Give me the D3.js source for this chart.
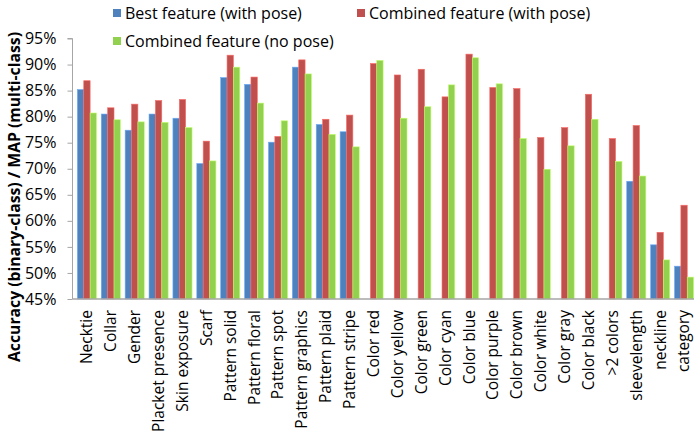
<!DOCTYPE html>
<html>
<head>
<meta charset="utf-8">
<script src="https://cdn.jsdelivr.net/npm/d3@7/dist/d3.min.js"></script>
<style>
  body { margin: 0; background: #fff; }
  svg { font-family: "Open Sans", "Noto Sans", sans-serif; }
</style>
</head>
<body>
<div id="chart"></div>
<script>
const categories = ["Necktie", "Collar", "Gender", "Placket presence", "Skin exposure", "Scarf",
  "Pattern solid", "Pattern floral", "Pattern spot", "Pattern graphics", "Pattern plaid",
  "Pattern stripe", "Color red", "Color yellow", "Color green", "Color cyan", "Color blue",
  "Color purple", "Color brown", "Color white", "Color gray", "Color black", ">2 colors",
  "sleevelength", "neckline", "category"]

// null = no bar for that category
const bestPose = [85.2, 80.5, 77.4, 80.5, 79.7, 71.0, 87.5, 86.2, 75.1, 89.5, 78.5, 77.1,
  null, null, null, null, null, null, null, null, null, null, null, 67.6, 55.4, 51.3]
const combinedPose = [86.9, 81.7, 82.4, 83.1, 83.3, 75.3, 91.8, 87.6, 76.2, 90.9, 79.5, 80.3,
  90.2, 88.0, 89.1, 83.8, 92.0, 85.6, 85.4, 76.0, 77.9, 84.3, 75.8, 78.3, 57.8, 63.0]
const combinedNoPose = [80.7, 79.4, 79.0, 78.9, 77.9, 71.5, 89.5, 82.6, 79.2, 88.2, 76.6, 74.2,
  90.8, 79.7, 81.9, 86.1, 91.3, 86.3, 75.8, 69.9, 74.4, 79.5, 71.4, 68.6, 52.5, 49.2]

const seriesNames = ["Best feature (with pose)", "Combined feature (with pose)", "Combined feature (no pose)"]
const seriesColors = ["#4F81BD", "#C0504D", "#92D050"]
const yTicks = [45, 50, 55, 60, 65, 70, 75, 80, 85, 90, 95]

const W = 694, H = 436
const LEFT = 75, RIGHT = 696, TOP = 38.5, BOTTOM = 299
const FONT = 16

const svg = d3.select("#chart").append("svg")
  .attr("width", W).attr("height", H)

const series = [bestPose, combinedPose, combinedNoPose]
const rows = categories.map((c, i) => ({
  cat: c,
  vals: series.map((s, k) => ({ k: k, v: s[i] }))
}))

const x0 = d3.scaleBand()
  .domain(categories)
  .range([LEFT, RIGHT])
  .paddingInner(0.2)
  .paddingOuter(0.1)

const x1 = d3.scaleBand()
  .domain([0, 1, 2])
  .range([0, x0.bandwidth()])

const y = d3.scaleLinear()
  .domain([45, 95])
  .range([BOTTOM, TOP])

// bars
const groups = svg.append("g").selectAll("g")
  .data(rows)
  .enter().append("g")
  .attr("transform", d => `translate(${x0(d.cat)},0)`)

groups.selectAll("rect")
  .data(d => d.vals.filter(e => e.v != null))
  .enter().append("rect")
  .attr("x", d => x1(d.k))
  .attr("width", x1.bandwidth())
  .attr("y", d => y(d.v))
  .attr("height", d => y(45) - y(d.v))
  .attr("fill", d => seriesColors[d.k])
  .attr("stroke", d => d3.color(seriesColors[d.k]).brighter(0.8))
  .attr("stroke-width", 0.6)

// y axis
const yAxis = svg.append("g")
  .attr("transform", `translate(${LEFT - 2.5},0)`)
  .call(d3.axisLeft(y).tickValues(yTicks).tickSize(5).tickPadding(11)
    .tickFormat(d => d + "%"))
yAxis.select(".domain").attr("stroke", "#a6a6a6")
  .attr("d", `M-5,${y(95)}H0V${y(45)}`)
yAxis.selectAll(".tick line").attr("stroke", "#a6a6a6")
yAxis.selectAll(".tick text")
  .attr("font-size", FONT)
  .attr("font-family", "Open Sans, sans-serif")
  .attr("fill", "#000")

// x axis
const xAxis = svg.append("g")
  .attr("transform", `translate(0,${BOTTOM})`)
  .call(d3.axisBottom(x0).tickSize(0))
xAxis.select(".domain").attr("stroke", "#a6a6a6").attr("stroke-width", 1.5)
  .attr("d", `M${LEFT - 2.5},0H${W}`)
xAxis.selectAll(".tick text")
  .attr("font-size", 15.5)
  .attr("font-family", "Open Sans, sans-serif")
  .attr("fill", "#000")
  .attr("text-anchor", "end")
  .attr("transform", "rotate(-90)")
  .attr("x", -11)
  .attr("y", 0)
  .attr("dy", "0.35em")

// y title
svg.append("text")
  .attr("transform", `translate(20,${(32 + 362) / 2}) rotate(-90)`)
  .attr("text-anchor", "middle")
  .attr("font-size", 15.5)
  .attr("font-weight", "bold")
  .attr("textLength", 330)
  .attr("lengthAdjust", "spacingAndGlyphs")
  .text("Accuracy (binary-class) / MAP (multi-class)")

// legend
const legendPos = [[113, 9], [357, 9], [113, 37]]
const legend = svg.append("g").selectAll("g")
  .data(seriesNames)
  .enter().append("g")
  .attr("transform", (d, i) => `translate(${legendPos[i][0]},${legendPos[i][1]})`)
legend.append("rect")
  .attr("width", 8).attr("height", 8)
  .attr("fill", (d, i) => seriesColors[i])
legend.append("text")
  .attr("x", 12).attr("y", 9.5)
  .attr("font-size", FONT)
  .text(d => d)
</script>
</body>
</html>
